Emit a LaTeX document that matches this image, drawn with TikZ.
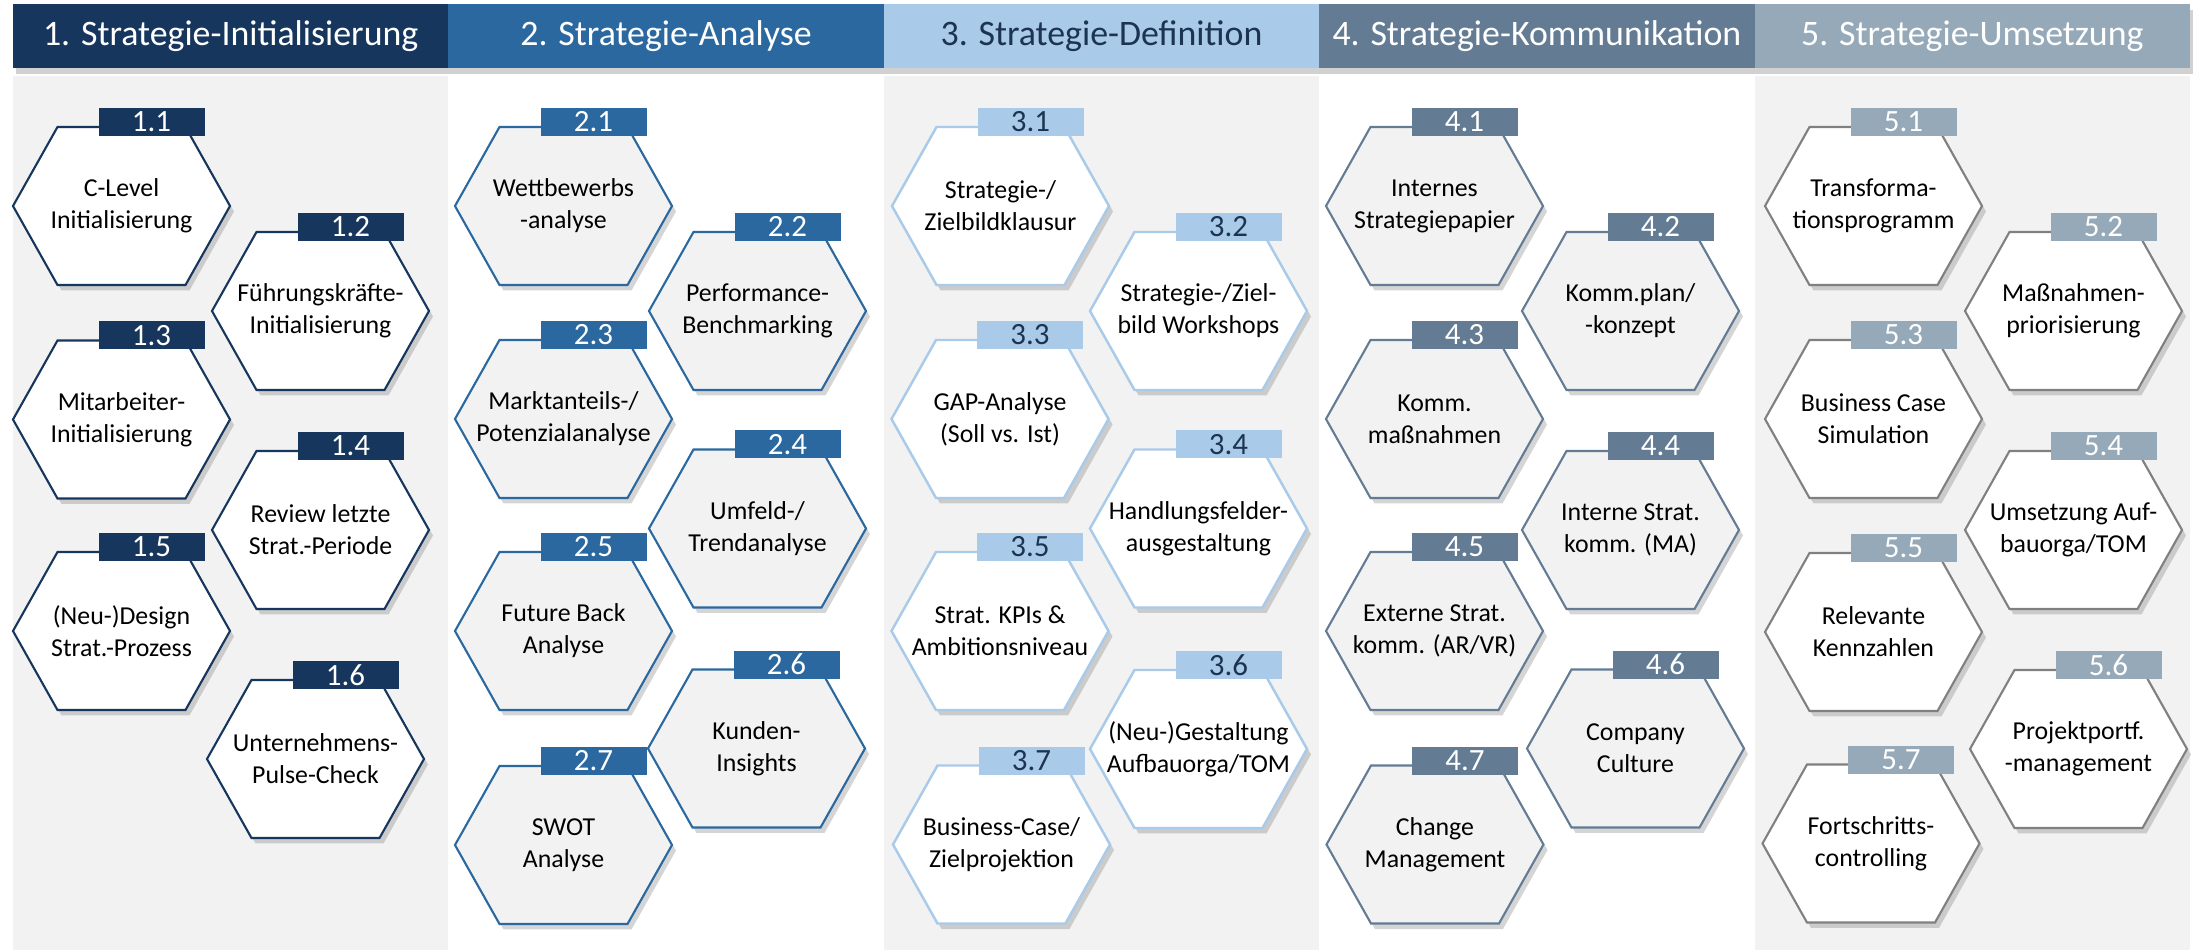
\documentclass[tikz,border=0pt]{standalone}
\usepackage{fontspec}
\setmainfont{Carlito}
\usetikzlibrary{positioning,shadows}

\definecolor{cone}{HTML}{17365D}
\definecolor{ctwo}{HTML}{2B689F}
\definecolor{cthree}{HTML}{A9CAE8}
\definecolor{cfour}{HTML}{647B94}
\definecolor{cfive}{HTML}{95A9B8}
\definecolor{cfiveline}{HTML}{808080}
\definecolor{panel}{HTML}{F2F2F2}
\definecolor{navytxt}{HTML}{1C3452}

\tikzset{
  hexa/.pic={
    \fill[black!55, opacity=0.3, shift={(0.04,-0.055)}] (-1.085,0) -- (-0.64,0.79) -- (0.64,0.79) -- (1.085,0) -- (0.64,-0.79) -- (-0.64,-0.79) -- cycle; %shadow
    \draw[pic actions] (-1.085,0) -- (-0.64,0.79) -- (0.64,0.79) -- (1.085,0) -- (0.64,-0.79) -- (-0.64,-0.79) -- cycle;},
  head/.style={inner sep=0, outer sep=0, minimum width=4.354cm, minimum height=0.64cm, text=white, font=\fontsize{10.2}{12}\selectfont, drop shadow={shadow xshift=0.03cm, shadow yshift=-0.06cm, opacity=0.3, fill=black!60}},
  txt/.style={align=center, inner sep=0, font=\fontsize{7.35}{9.1}\selectfont},
  numbox/.style={inner sep=0, minimum width=1.06cm, minimum height=0.28cm, text=white, font=\fontsize{8.8}{9}\selectfont},
  hexone/.style={draw=cone, fill=white, line width=0.6pt},
  hextwo/.style={draw=ctwo, fill=panel, line width=0.6pt},
  hexthree/.style={draw=cthree, fill=white, line width=0.7pt},
  hexfour/.style={draw=cfour, fill=panel, line width=0.6pt},
  hexfive/.style={draw=cfiveline, fill=white, line width=0.6pt},
  numone/.style={numbox, fill=cone},
  numtwo/.style={numbox, fill=ctwo},
  numthree/.style={numbox, fill=cthree, text=navytxt},
  numfour/.style={numbox, fill=cfour},
  numfive/.style={numbox, fill=cfive}
}

\begin{document}
\begin{tikzpicture}
\useasboundingbox (0,0) rectangle (22.01,-9.5);
\fill[panel] (0.13,-0.76) rectangle (4.484,-9.5); %col1
\fill[panel] (8.838,-0.76) rectangle (13.192,-9.5); %col3
\fill[panel] (17.546,-0.76) rectangle (21.9,-9.5); %col5

\node[head, fill=cone, anchor=north west] (head1) at (0.13,-0.04) {1. Strategie-Initialisierung};
\node[head, fill=ctwo, right=0cm of head1] (head2) {2. Strategie-Analyse};
\node[head, fill=cthree, text=navytxt, right=0cm of head2] (head3) {3. Strategie-Definition};
\node[head, fill=cfour, right=0cm of head3] (head4) {4. Strategie-Kommunikation};
\node[head, fill=cfive, right=0cm of head4] (head5) {5. Strategie-Umsetzung};

% 1. Initialisierung
\pic[hexone] at (1.215,-2.06) {hexa};
\node[txt] (h11) at (1.215,-2.06) {C-Level\\Initialisierung};
\node[numone] (n11) at ([shift={(0.3,0.84)}]h11.center) {1.1};
\pic[hexone] at (3.205,-3.11) {hexa};
\node[txt] (h12) at (3.205,-3.11) {Führungskräfte-\\Initialisierung};
\node[numone] (n12) at ([shift={(0.3,0.84)}]h12.center) {1.2};
\pic[hexone] at (1.215,-4.195) {hexa};
\node[txt] (h13) at (1.215,-4.195) {Mitarbeiter-\\Initialisierung};
\node[numone] (n13) at ([shift={(0.3,0.84)}]h13.center) {1.3};
\pic[hexone] at (3.205,-5.3) {hexa};
\node[txt] (h14) at (3.205,-5.3) {Review letzte\\Strat.-Periode};
\node[numone] (n14) at ([shift={(0.3,0.84)}]h14.center) {1.4};
\pic[hexone] at (1.215,-6.31) {hexa};
\node[txt] (h15) at (1.215,-6.31) {(Neu-)Design\\Strat.-Prozess};
\node[numone] (n15) at ([shift={(0.3,0.84)}]h15.center) {1.5};
\pic[hexone] at (3.155,-7.59) {hexa};
\node[txt] (h16) at (3.155,-7.59) {Unternehmens-\\Pulse-Check};
\node[numone] (n16) at ([shift={(0.3,0.84)}]h16.center) {1.6};

% 2. Analyse
\pic[hextwo] at (5.635,-2.06) {hexa};
\node[txt] (h21) at (5.635,-2.06) {Wettbewerbs\\-analyse};
\node[numtwo] (n21) at ([shift={(0.3,0.84)}]h21.center) {2.1};
\pic[hextwo] at (7.575,-3.11) {hexa};
\node[txt] (h22) at (7.575,-3.11) {Performance-\\Benchmarking};
\node[numtwo] (n22) at ([shift={(0.3,0.84)}]h22.center) {2.2};
\pic[hextwo] at (5.635,-4.19) {hexa};
\node[txt] (h23) at (5.635,-4.19) {Marktanteils-/\\Potenzialanalyse};
\node[numtwo] (n23) at ([shift={(0.3,0.84)}]h23.center) {2.3};
\pic[hextwo] at (7.575,-5.285) {hexa};
\node[txt] (h24) at (7.575,-5.285) {Umfeld-/\\Trendanalyse};
\node[numtwo] (n24) at ([shift={(0.3,0.84)}]h24.center) {2.4};
\pic[hextwo] at (5.635,-6.31) {hexa};
\node[txt] (h25) at (5.635,-6.31) {Future Back\\Analyse};
\node[numtwo] (n25) at ([shift={(0.3,0.84)}]h25.center) {2.5};
\pic[hextwo] at (7.565,-7.485) {hexa};
\node[txt] (h26) at (7.565,-7.485) {Kunden-\\Insights};
\node[numtwo] (n26) at ([shift={(0.3,0.84)}]h26.center) {2.6};
\pic[hextwo] at (5.635,-8.45) {hexa};
\node[txt] (h27) at (5.635,-8.45) {SWOT\\Analyse};
\node[numtwo] (n27) at ([shift={(0.3,0.84)}]h27.center) {2.7};

% 3. Definition
\pic[hexthree] at (10.005,-2.06) {hexa};
\node[txt] (h31) at (10.005,-2.06) {Strategie-/\\Zielbildklausur};
\node[numthree] (n31) at ([shift={(0.3,0.84)}]h31.center) {3.1};
\pic[hexthree] at (11.985,-3.11) {hexa};
\node[txt] (h32) at (11.985,-3.11) {Strategie-/Ziel-\\bild Workshops};
\node[numthree] (n32) at ([shift={(0.3,0.84)}]h32.center) {3.2};
\pic[hexthree] at (10.0,-4.19) {hexa};
\node[txt] (h33) at (10.0,-4.19) {GAP-Analyse\\(Soll vs. Ist)};
\node[numthree] (n33) at ([shift={(0.3,0.84)}]h33.center) {3.3};
\pic[hexthree] at (11.985,-5.285) {hexa};
\node[txt] (h34) at (11.985,-5.285) {Handlungsfelder-\\ausgestaltung};
\node[numthree] (n34) at ([shift={(0.3,0.84)}]h34.center) {3.4};
\pic[hexthree] at (10.0,-6.31) {hexa};
\node[txt] (h35) at (10.0,-6.31) {Strat. KPIs \&\\Ambitionsniveau};
\node[numthree] (n35) at ([shift={(0.3,0.84)}]h35.center) {3.5};
\pic[hexthree] at (11.985,-7.49) {hexa};
\node[txt] (h36) at (11.985,-7.49) {(Neu-)Gestaltung\\Aufbauorga/TOM};
\node[numthree] (n36) at ([shift={(0.3,0.84)}]h36.center) {3.6};
\pic[hexthree] at (10.015,-8.445) {hexa};
\node[txt] (h37) at (10.015,-8.445) {Business-Case/\\Zielprojektion};
\node[numthree] (n37) at ([shift={(0.3,0.84)}]h37.center) {3.7};

% 4. Kommunikation
\pic[hexfour] at (14.345,-2.06) {hexa};
\node[txt] (h41) at (14.345,-2.06) {Internes\\Strategiepapier};
\node[numfour] (n41) at ([shift={(0.3,0.84)}]h41.center) {4.1};
\pic[hexfour] at (16.305,-3.11) {hexa};
\node[txt] (h42) at (16.305,-3.11) {Komm.plan/\\-konzept};
\node[numfour] (n42) at ([shift={(0.3,0.84)}]h42.center) {4.2};
\pic[hexfour] at (14.345,-4.19) {hexa};
\node[txt] (h43) at (14.345,-4.19) {Komm.\\maßnahmen};
\node[numfour] (n43) at ([shift={(0.3,0.84)}]h43.center) {4.3};
\pic[hexfour] at (16.305,-5.3) {hexa};
\node[txt] (h44) at (16.305,-5.3) {Interne Strat.\\komm. (MA)};
\node[numfour] (n44) at ([shift={(0.3,0.84)}]h44.center) {4.4};
\pic[hexfour] at (14.345,-6.31) {hexa};
\node[txt] (h45) at (14.345,-6.31) {Externe Strat.\\komm. (AR/VR)};
\node[numfour] (n45) at ([shift={(0.3,0.84)}]h45.center) {4.5};
\pic[hexfour] at (16.355,-7.485) {hexa};
\node[txt] (h46) at (16.355,-7.485) {Company\\Culture};
\node[numfour] (n46) at ([shift={(0.3,0.84)}]h46.center) {4.6};
\pic[hexfour] at (14.35,-8.445) {hexa};
\node[txt] (h47) at (14.35,-8.445) {Change\\Management};
\node[numfour] (n47) at ([shift={(0.3,0.84)}]h47.center) {4.7};

% 5. Umsetzung
\pic[hexfive] at (18.735,-2.06) {hexa};
\node[txt] (h51) at (18.735,-2.06) {Transforma-\\tionsprogramm};
\node[numfive] (n51) at ([shift={(0.3,0.84)}]h51.center) {5.1};
\pic[hexfive] at (20.735,-3.11) {hexa};
\node[txt] (h52) at (20.735,-3.11) {Maßnahmen-\\priorisierung};
\node[numfive] (n52) at ([shift={(0.3,0.84)}]h52.center) {5.2};
\pic[hexfive] at (18.735,-4.19) {hexa};
\node[txt] (h53) at (18.735,-4.19) {Business Case\\Simulation};
\node[numfive] (n53) at ([shift={(0.3,0.84)}]h53.center) {5.3};
\pic[hexfive] at (20.735,-5.3) {hexa};
\node[txt] (h54) at (20.735,-5.3) {Umsetzung Auf-\\bauorga/TOM};
\node[numfive] (n54) at ([shift={(0.3,0.84)}]h54.center) {5.4};
\pic[hexfive] at (18.735,-6.32) {hexa};
\node[txt] (h55) at (18.735,-6.32) {Relevante\\Kennzahlen};
\node[numfive] (n55) at ([shift={(0.3,0.84)}]h55.center) {5.5};
\pic[hexfive] at (20.785,-7.49) {hexa};
\node[txt] (h56) at (20.785,-7.49) {Projektportf.\\-management};
\node[numfive] (n56) at ([shift={(0.3,0.84)}]h56.center) {5.6};
\pic[hexfive] at (18.71,-8.435) {hexa};
\node[txt] (h57) at (18.71,-8.435) {Fortschritts-\\controlling};
\node[numfive] (n57) at ([shift={(0.3,0.84)}]h57.center) {5.7};
\end{tikzpicture}
\end{document}
